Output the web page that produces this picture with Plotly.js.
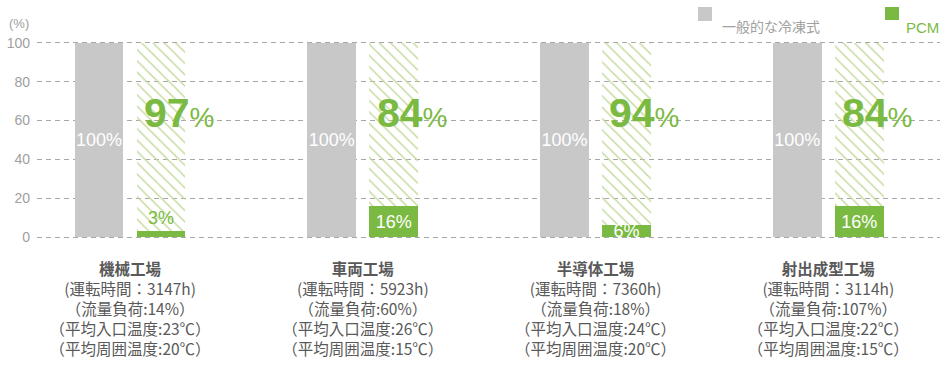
<!DOCTYPE html>
<html>
<head>
<meta charset="utf-8">
<script src="https://cdn.plot.ly/plotly-3.0.1.min.js"></script>
<style>html,body{margin:0;padding:0;background:#fff;}#chart{width:951px;height:365px;}</style>
</head>
<body>
<div id="chart"></div>
<script>
// ---- data ----
const factories = ['機械工場', '車両工場', '半導体工場', '射出成型工場'];
const runHours = ['3147h', '5923h', '7360h', '3114h'];
const flowLoad = ['14%', '60%', '18%', '107%'];
const inletTemp = ['23℃', '26℃', '24℃', '22℃'];
const ambientTemp = ['20℃', '15℃', '20℃', '15℃'];
const conventional = [100, 100, 100, 100];
const pcm = [3, 16, 6, 16];
const yTicks = [0, 20, 40, 60, 80, 100];
const legendNames = ['一般的な冷凍式', 'PCM'];

// ---- styling ----
const GREY = '#c8c8c8';
const GREEN = '#7aba42';
const NUMFONT = 'Liberation Sans Narrow, Liberation Sans, Arial';
const xs = factories.map((_, i) => i);
const BW = 0.21;

const tickText = factories.map((f, i) =>
  '<b>' + f + '</b><br>(運転時間：' + runHours[i] + ')<br>（流量負荷:' + flowLoad[i] +
  '）<br>（平均入口温度:' + inletTemp[i] + '）<br>（平均周囲温度:' + ambientTemp[i] + '）');

const traces = [
  {
    type: 'bar', x: xs, y: conventional, width: BW, offset: -0.2385,
    marker: {color: GREY}, name: legendNames[0],
    text: conventional.map(v => v + '%'), textposition: 'inside', insidetextanchor: 'middle',
    constraintext: 'none', textangle: 0,
    textfont: {family: 'Liberation Sans, Arial', size: 18, color: '#ffffff'},
    hoverinfo: 'skip', showlegend: false
  },
  {
    type: 'bar', x: xs, y: conventional, width: BW, offset: 0.028,
    marker: {color: 'rgba(255,255,255,0)', pattern: {shape: '\\', fgcolor: '#c3da9c', bgcolor: 'rgba(255,255,255,0)', size: 8, solidity: 0.18, fillmode: 'replace'}},
    hoverinfo: 'skip', showlegend: false
  },
  {
    type: 'bar', x: xs, y: pcm, width: BW, offset: 0.028,
    marker: {color: GREEN}, name: legendNames[1],
    text: pcm.map(v => v + '%'),
    textposition: pcm.map(v => v < 5 ? 'outside' : 'inside'),
    insidetextanchor: 'middle', constraintext: 'none', cliponaxis: false, textangle: 0,
    insidetextfont: {family: 'Liberation Sans, Arial', size: 18, color: '#ffffff'},
    outsidetextfont: {family: 'Liberation Sans, Arial', size: 18, color: GREEN},
    hoverinfo: 'skip', showlegend: false
  }
];

const W = 951, H = 365, L = 37, R = 11, T = 40, B = 125;
const pw = W - L - R, ph = H - T - B;
const Y0 = -1.5, Y1 = 101.5;
const px = X => (X - L) / pw;
const py = Y => 1 - (Y - T) / ph;

const annotations = pcm.map((v, i) => ({
  x: i + 0.212, y: 64, xref: 'x', yref: 'y', showarrow: false, xanchor: 'center', yanchor: 'middle',
  text: '<b>' + (conventional[i] - v) + '</b><span style="font-size:28px">%</span>',
  font: {family: NUMFONT, size: 41, color: GREEN}
})).concat([
  {xref: 'paper', yref: 'paper', x: px(19), y: py(23), xanchor: 'center', yanchor: 'middle', showarrow: false, text: '(%)',
   font: {family: 'Liberation Sans, Arial', size: 13, color: '#a0a0a0'}},
  {xref: 'paper', yref: 'paper', x: px(720), y: py(26), xanchor: 'left', yanchor: 'middle', showarrow: false, text: legendNames[0],
   font: {family: 'Noto Sans CJK JP', size: 14, color: '#a0a0a0'}},
  {xref: 'paper', yref: 'paper', x: px(904), y: py(27), xanchor: 'left', yanchor: 'middle', showarrow: false, text: legendNames[1],
   font: {family: 'Liberation Sans, Arial', size: 15, color: GREEN}}
]);

const layout = {
  width: W, height: H,
  margin: {l: L, r: R, t: T, b: B},
  paper_bgcolor: '#ffffff', plot_bgcolor: '#ffffff',
  barmode: 'overlay', bargap: 0,
  showlegend: false,
  xaxis: {
    range: [-0.4, 3.48], tickmode: 'array', tickvals: xs, ticktext: tickText,
    showgrid: false, zeroline: false, showline: false, ticks: '',
    ticklabelstandoff: 18,
    tickfont: {family: 'Noto Sans CJK JP', size: 15.5, color: '#595959'}
  },
  yaxis: {
    range: [Y0, Y1], tickmode: 'array', tickvals: yTicks,
    showgrid: true, gridcolor: '#a8a8a8', gridwidth: 1, griddash: '5px,4px',
    zeroline: false, showline: false, ticks: '', ticklabelstandoff: 6,
    tickfont: {family: 'Liberation Sans, Arial', size: 14, color: '#a0a0a0'}
  },
  shapes: [
    {type: 'rect', xref: 'paper', yref: 'paper', x0: px(698), x1: px(712), y0: py(21), y1: py(7), fillcolor: GREY, line: {width: 0}},
    {type: 'rect', xref: 'paper', yref: 'paper', x0: px(885), x1: px(899), y0: py(20), y1: py(7), fillcolor: GREEN, line: {width: 0}}
  ],
  annotations: annotations
};

Plotly.newPlot('chart', traces, layout, {displayModeBar: false, staticPlot: true});
</script>
</body>
</html>
